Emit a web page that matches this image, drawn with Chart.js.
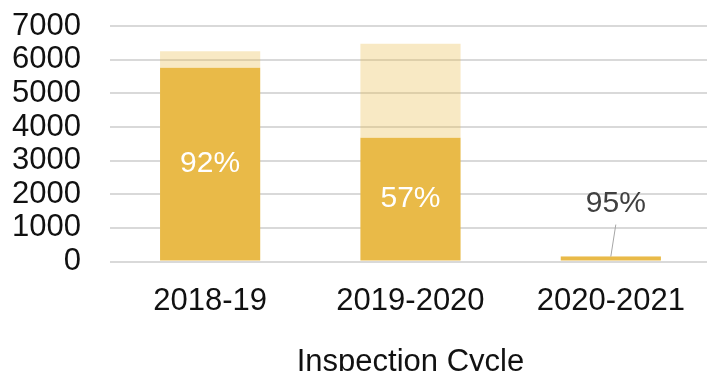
<!DOCTYPE html>
<html>
<head>
<meta charset="utf-8">
<script src="https://cdn.jsdelivr.net/npm/chart.js@4"></script>
<style>
	html, body { margin: 0; padding: 0; background: #fff; overflow: hidden; }
	#wrap { width: 711px; height: 381px; }
</style>
</head>
<body>
<div id="wrap"><canvas id="chart" width="711" height="381"></canvas></div>
<script>
const cycles = ['2018-19', '2019-2020', '2020-2021'];
// inspections completed / still outstanding in each cycle
const completed = [5760, 3680, 150];
const remaining = [490, 2790, 8];
const yTicks = [0, 1000, 2000, 3000, 4000, 5000, 6000, 7000];

const FONT = "'Liberation Sans', Arial, sans-serif";
const GOLD = '#e9ba48';
const GOLD_LIGHT = 'rgba(233, 186, 72, 0.32)';

// percentage label on each bar: inside the dark part, or above with a leader line when the bar is short
const pctLabels = {
	id: 'pctLabels',
	afterDatasetsDraw(chart) {
		const ctx = chart.ctx;
		const bars = chart.getDatasetMeta(0).data;
		ctx.save();
		ctx.font = '30px ' + FONT;
		ctx.textAlign = 'center';
		ctx.textBaseline = 'middle';
		bars.forEach((bar, i) => {
			const pct = Math.round(completed[i] / (completed[i] + remaining[i]) * 100) + '%';
			const h = bar.base - bar.y;
			if (h > 50) {
				ctx.fillStyle = '#ffffff';
				ctx.fillText(pct, bar.x, bar.y + h / 2);
			} else {
				ctx.strokeStyle = '#a6a6a6';
				ctx.lineWidth = 1;
				ctx.beginPath();
				ctx.moveTo(bar.x, bar.y);
				ctx.lineTo(bar.x + 5, bar.y - 32);
				ctx.stroke();
				ctx.fillStyle = '#404040';
				ctx.fillText(pct, bar.x + 5, bar.y - 53);
			}
		});
		ctx.restore();
	},
};

new Chart(document.querySelector('#chart').getContext('2d'), {
	type: 'bar',
	data: {
		labels: cycles,
		datasets: [
			{
				label: 'Completed',
				data: completed,
				backgroundColor: GOLD,
			},
			{
				label: 'Remaining',
				data: remaining,
				backgroundColor: GOLD_LIGHT,
			},
		],
	},
	options: {
		responsive: false,
		animation: false,
		events: [],
		categoryPercentage: 1,
		barPercentage: 0.5,
		layout: { padding: { left: -17, top: 26, right: 0, bottom: 0 } },
		plugins: {
			legend: { display: false },
			tooltip: { enabled: false },
		},
		scales: {
			x: {
				stacked: true,
				afterFit(scale) {
					scale.paddingLeft = 0;
					scale.paddingRight = 0;
				},
				grid: { display: false },
				border: { display: false },
				ticks: { color: '#111', font: { family: FONT, size: 31 }, padding: 13 },
				title: {
					display: true,
					text: 'Inspection Cycle',
					color: '#111',
					font: { family: FONT, size: 31 },
					padding: { top: 11, bottom: 0 },
				},
			},
			y: {
				stacked: true,
				min: 0,
				max: 7000,
				afterBuildTicks(scale) {
					scale.ticks = yTicks.map(v => ({ value: v }));
				},
				afterFit(scale) {
					scale.paddingTop = 0;
					scale.paddingBottom = 0;
				},
				grid: { color: '#d9d9d9', lineWidth: 2, drawTicks: false },
				border: { display: false },
				ticks: {
					color: '#111',
					font: { family: FONT, size: 31 },
					padding: 29,
					autoSkip: false,
					callback: v => String(v),
				},
			},
		},
	},
	plugins: [pctLabels],
});
</script>
</body>
</html>
